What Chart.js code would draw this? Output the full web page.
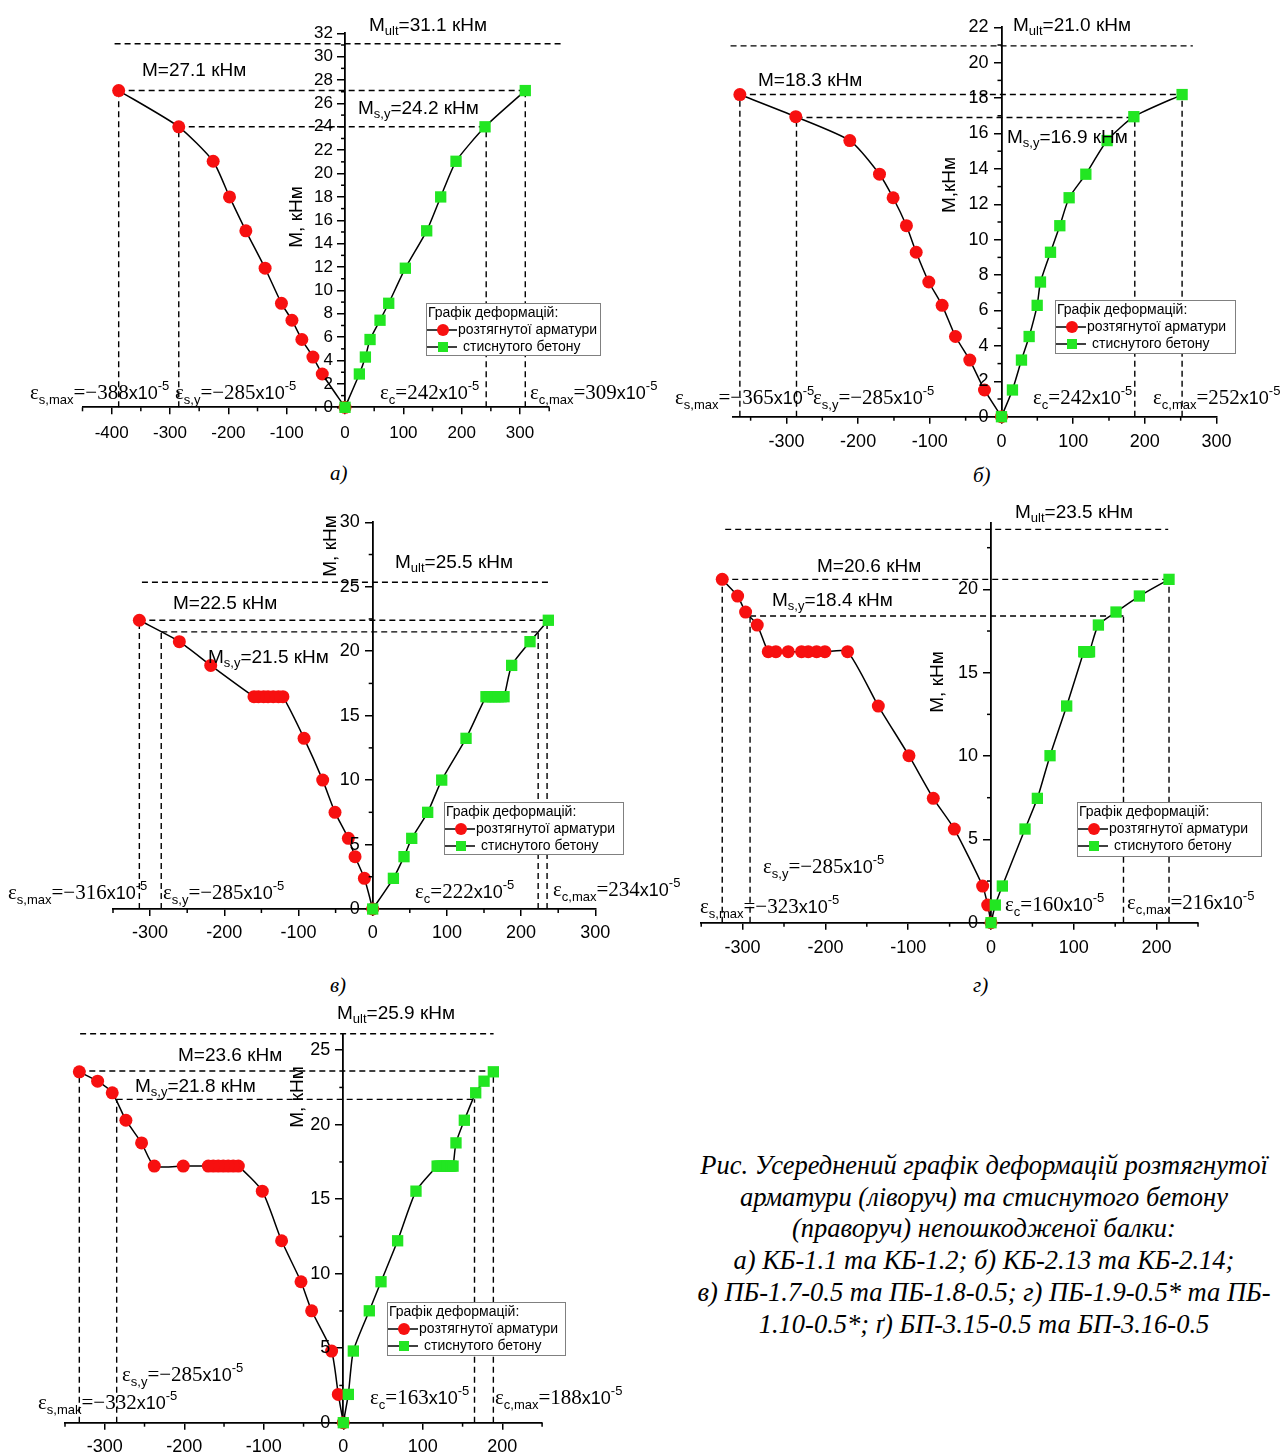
<!DOCTYPE html>
<html lang="uk">
<head>
<meta charset="utf-8">
<title>Усереднений графік деформацій</title>
<script src="https://cdn.jsdelivr.net/npm/chart.js@4.4.1/dist/chart.umd.min.js"></script>
<style>
  html, body { margin: 0; padding: 0; background: #fff; }
  #page { position: relative; width: 1284px; height: 1455px; overflow: hidden; }
  #page canvas { position: absolute; left: 0; top: 0; }
  .panel-label { position: absolute; font: italic 21px "Liberation Serif", "Times New Roman", serif; color: #000; }
  #caption { position: absolute; left: 584px; width: 800px; top: 1150px; text-align: center; white-space: nowrap;
             font: italic 26.5px/31.7px "Liberation Serif", "Times New Roman", serif; color: #000; }
</style>
</head>
<body>
<div id="page">
  <div class="panel-label" style="left:330px;top:461px">а)</div>
  <div class="panel-label" style="left:973px;top:463px">б)</div>
  <div class="panel-label" style="left:330px;top:973px">в)</div>
  <div class="panel-label" style="left:973px;top:973px">г)</div>
  <div id="caption" style="left:584px;width:800px">Рис. Усереднений графік деформацій розтягнутої<br>арматури (ліворуч) та стиснутого бетону<br>(праворуч) непошкодженої балки:<br>а) КБ-1.1 та КБ-1.2; б) КБ-2.13 та КБ-2.14;<br>в) ПБ-1.7-0.5 та ПБ-1.8-0.5; г) ПБ-1.9-0.5* та ПБ-<br>1.10-0.5*; ґ) БП-3.15-0.5 та БП-3.16-0.5</div>
  <canvas id="chartA" width="1284" height="1455"></canvas>
  <canvas id="chartB" width="1284" height="1455"></canvas>
  <canvas id="chartC" width="1284" height="1455"></canvas>
  <canvas id="chartD" width="1284" height="1455"></canvas>
  <canvas id="chartE" width="1284" height="1455"></canvas>
</div>
<script>
// а) moments (kNm) and strains (x10^-5): rebar is negative, concrete positive
const momentA = [0, 2.85, 4.3, 5.8, 7.45, 8.9, 11.9, 15.1, 18.0, 21.05, 24.0, 27.1];
const rebarA = [0, -39, -55, -74, -91, -109, -137, -170, -198, -226, -285, -388];
const concreteA = [0, 24.6, 34.9, 42.9, 60, 74.9, 103.4, 140, 164, 190.3, 240, 309];
const levelsA = [31.1, 27.1, 24.0];          // M_ult, M, M_s,y
const dropsA = [-388, -285, 242, 309];       // eps_s,max, eps_s,y, eps_c, eps_c,max
const xTicksA = [-400, -300, -200, -100, 0, 100, 200, 300];
const yTicksA = [0, 2, 4, 6, 8, 10, 12, 14, 16, 18, 20, 22, 24, 26, 28, 30, 32];

// б)
const momentB = [0, 1.51, 3.2, 4.53, 6.29, 7.61, 9.29, 10.79, 12.37, 13.7, 15.6, 16.95, 18.2];
const rebarB = [0, -23.7, -44.2, -64.2, -82.8, -101.4, -119, -132.6, -151.2, -170.2, -211.6, -287, -365];
const concreteB = [0, 15.3, 27.9, 38.6, 49.8, 54.4, 68.4, 81.4, 94.4, 117.7, 147.4, 184.7, 252];
const levelsB = [20.95, 18.2, 16.9];
const dropsB = [-365, -286, 186, 252];
const xTicksB = [-300, -200, -100, 0, 100, 200, 300];
const yTicksB = [0, 2, 4, 6, 8, 10, 12, 14, 16, 18, 20, 22];

// в)
const momentC = [0, 2.38, 4.06, 5.48, 7.5, 10.0, 13.24, 16.47, 16.47, 16.47, 16.47, 16.47, 16.47, 16.47, 18.9, 20.74, 22.4];
const rebarC = [0, -11.2, -23.8, -32.8, -50.8, -67.4, -92.5, -121, -127, -134, -141, -147, -154, -160, -218.3, -260.6, -314.5];
const concreteC = [0, 27.9, 42.2, 52.6, 74.1, 93, 125.8, 152.7, 157, 161, 165, 169, 173, 177, 187.3, 212, 236.7];
const levelsC = [25.35, 22.4, 21.5];
const dropsC = [-314.5, -285, 223, 235];
const xTicksC = [-300, -200, -100, 0, 100, 200, 300];
const yTicksC = [0, 5, 10, 15, 20, 25, 30];

// г)
const momentD = [0, 1.06, 2.2, 5.62, 7.46, 10.02, 13.0, 16.26, 16.26, 16.26, 16.26, 16.26, 16.26, 16.26, 16.26, 17.86, 18.64, 19.6, 20.6];
const rebarD = [0, -4, -10.1, -44.3, -69.7, -99.1, -136.1, -173.2, -200.6, -210.6, -220.7, -228.8, -244.9, -259.8, -269, -282.3, -296.4, -306, -324.6];
const concreteD = [0, 5.2, 13.7, 41.1, 56, 71.3, 91.4, 112, 113, 114, 115, 116, 117, 118, 119, 129.7, 151, 179.2, 215];
const levelsD = [23.6, 20.6, 18.4];
const dropsD = [-324.6, -291, 160, 215];
const xTicksD = [-300, -200, -100, 0, 100, 200];
const yTicksD = [0, 5, 10, 15, 20];

// ґ)
const momentE = [0, 1.9, 4.81, 7.51, 9.46, 12.21, 15.54, 17.22, 17.22, 17.22, 17.22, 17.22, 17.22, 17.22, 17.22, 17.22, 18.78, 20.3, 22.14, 22.92, 23.55];
const rebarE = [0, -6.3, -14.7, -39.8, -53.2, -77.6, -101.9, -132, -138.4, -144.7, -150.9, -157.2, -163.5, -169.8, -201.3, -237.7, -253.7, -273.4, -290.6, -309, -332];
const concreteE = [0, 6.3, 12.6, 32.7, 47.4, 68.3, 91.4, 118, 120.5, 123, 125.5, 128, 130.5, 133, 135.5, 138, 141.7, 152.2, 166.5, 177, 188.7];
const levelsE = [26.1, 23.6, 21.7];
const dropsE = [-332, -285, 165, 188.7];
const xTicksE = [-300, -200, -100, 0, 100, 200];
const yTicksE = [0, 5, 10, 15, 20, 25];

const RED = '#f71010';
const GREEN = '#22e622';
const SANS = '"Liberation Sans", Arial, sans-serif';
const SERIF = '"Liberation Serif", "Times New Roman", serif';

function range(from, to, step) {
    const out = [];
    for (let v = from; v <= to + 1e-9; v += step) out.push(+v.toFixed(3));
    return out;
}

// layout of every panel (page pixels); texts: [x, baseline, subscript, value]
const panels = [
    {
        id: 'chartA', moment: momentA, rebar: rebarA, concrete: concreteA, levels: levelsA, drops: dropsA,
        xTicks: xTicksA, yTicks: yTicksA, xMinor: range(-450, 350, 100), yMinor: range(1, 31, 2),
        area: {left: 82.5, right: 549.2, top: 33.3, bottom: 407.3}, xRange: [-450, 350], yRange: [0, 32],
        ultSpan: [-395, 376], tickFont: 17, yGap: 12, xGap: 26,
        mTexts: [[369, 31, 'ult', '31.1'], [142, 76, '', '27.1'], [358, 114, 's,y', '24.2']],
        eTexts: [[30, 399, 's,max', '−388'], [175, 399, 's,y', '−285'], [380, 399, 'c', '242'], [530, 399, 'c,max', '309']],
        yTitle: [297, 217, 'M, кНм'], legend: [426, 303, 174, 52]
    },
    {
        id: 'chartB', moment: momentB, rebar: rebarB, concrete: concreteB, levels: levelsB, drops: dropsB,
        xTicks: xTicksB, yTicks: yTicksB, xMinor: range(-350, 250, 100), yMinor: range(1, 21, 2),
        area: {left: 732.7, right: 1216.5, top: 27.3, bottom: 416.7}, xRange: [-375, 300], yRange: [0, 22],
        ultSpan: [-378, 267], tickFont: 18, yGap: 13, xGap: 25,
        mTexts: [[1013, 31, 'ult', '21.0'], [758, 86, '', '18.3'], [1007, 143, 's,y', '16.9']],
        eTexts: [[675, 404, 's,max', '−365'], [813, 404, 's,y', '−285'], [1033, 404, 'c', '242'], [1153, 404, 'c,max', '252']],
        yTitle: [950, 185, 'M,кНм'], legend: [1055, 300, 180, 53]
    },
    {
        id: 'chartC', moment: momentC, rebar: rebarC, concrete: concreteC, levels: levelsC, drops: dropsC,
        xTicks: xTicksC, yTicks: yTicksC, xMinor: range(-350, 250, 100), yMinor: range(2.5, 27.5, 5),
        area: {left: 113, right: 595.3, top: 522.3, bottom: 909}, xRange: [-350, 300], yRange: [0, 30],
        ultSpan: [-311, 237], tickFont: 18, yGap: 13, xGap: 24,
        mTexts: [[395, 568, 'ult', '25.5'], [173, 609, '', '22.5'], [208, 663, 's,y', '21.5']],
        eTexts: [[8, 899, 's,max', '−316'], [163, 899, 's,y', '−285'], [415, 898, 'c', '222'], [553, 896, 'c,max', '234']],
        yTitle: [331, 546, 'M, кНм'], legend: [444, 802, 179, 52]
    },
    {
        id: 'chartD', moment: momentD, rebar: rebarD, concrete: concreteD, levels: levelsD, drops: dropsD,
        xTicks: xTicksD, yTicks: yTicksD, xMinor: range(-350, 250, 100), yMinor: range(2.5, 22.5, 5),
        area: {left: 701.2, right: 1198, top: 522.7, bottom: 922.7}, xRange: [-350, 250], yRange: [0, 24],
        ultSpan: [-321, 214], tickFont: 18, yGap: 13, xGap: 25.5,
        mTexts: [[1015, 518, 'ult', '23.5'], [817, 572, '', '20.6'], [772, 606, 's,y', '18.4']],
        eTexts: [[763, 873, 's,y', '−285'], [700, 913, 's,max', '−323'], [1005, 911, 'c', '160'], [1127, 909, 'c,max', '216']],
        yTitle: [938, 682, 'M, кНм'], legend: [1077, 802, 184, 54]
    },
    {
        id: 'chartE', moment: momentE, rebar: rebarE, concrete: concreteE, levels: levelsE, drops: dropsE,
        xTicks: xTicksE, yTicks: yTicksE, xMinor: range(-350, 250, 100), yMinor: range(2.5, 22.5, 5),
        area: {left: 65, right: 542.1, top: 1035.3, bottom: 1422.7}, xRange: [-350, 250], yRange: [0, 26],
        ultSpan: [-331, 189], tickFont: 18, yGap: 13, xGap: 24,
        mTexts: [[337, 1019, 'ult', '25.9'], [178, 1061, '', '23.6'], [135, 1092, 's,y', '21.8']],
        eTexts: [[122, 1381, 's,y', '−285'], [38, 1409, 's,mak', '−332'], [370, 1404, 'c', '163'], [495, 1404, 'c,max', '188']],
        yTitle: [298, 1097, 'M, кНм'], legend: [387, 1302, 178, 53]
    }
];

function drawRuns(ctx, x, y, runs) {
    runs.forEach(([text, font, dy]) => {
        ctx.font = font;
        ctx.fillText(text, x, y + dy);
        x += ctx.measureText(text).width;
    });
}

function momentRuns(sub, val) {
    const runs = [['M', '19px ' + SANS, 0]];
    if (sub) runs.push([sub, '13px ' + SANS, 4]);
    runs.push(['=' + val + ' кНм', '19px ' + SANS, 0]);
    return runs;
}

function strainRuns(sub, val) {
    return [
        ['ε', '21px ' + SERIF, 0], [sub, '13px ' + SANS, 5], ['=' + val, '21px ' + SERIF, 0],
        ['x10', '18px ' + SANS, 0], ['-5', '13px ' + SANS, -9]
    ];
}

function drawLegend(ctx, [lx, ly, w, h]) {
    ctx.save();
    ctx.setLineDash([]);
    ctx.fillStyle = '#fff';
    ctx.fillRect(lx, ly, w, h);
    ctx.strokeStyle = '#808080';
    ctx.lineWidth = 1;
    ctx.strokeRect(lx + 0.5, ly + 0.5, w, h);
    ctx.fillStyle = '#000';
    ctx.font = '14px ' + SANS;
    ctx.textAlign = 'left';
    ctx.textBaseline = 'middle';
    ctx.fillText('Графік деформацій:', lx + 2, ly + 10);
    [[27, 'circle', 'розтягнутої арматури', 32], [44, 'rect', 'стиснутого бетону', 37]].forEach(([dy, shape, label, tx]) => {
        const cy = ly + dy;
        ctx.strokeStyle = '#000';
        ctx.lineWidth = 1.5;
        ctx.beginPath();
        ctx.moveTo(lx + 1, cy);
        ctx.lineTo(lx + 31, cy);
        ctx.stroke();
        if (shape === 'circle') {
            ctx.fillStyle = RED;
            ctx.beginPath();
            ctx.arc(lx + 17, cy, 6, 0, Math.PI * 2);
            ctx.fill();
        } else {
            ctx.fillStyle = GREEN;
            ctx.fillRect(lx + 12, cy - 5, 10, 10);
        }
        ctx.fillStyle = '#000';
        ctx.fillText(label, lx + tx, cy);
    });
    ctx.restore();
}

function annotations(p) {
    return {
        id: 'annot' + p.id,
        beforeDatasetsDraw(chart) {
            const {ctx, scales: {x, y}} = chart;
            const [mUlt, mMax, mYield] = p.levels;
            const [sMax, sYield, cYield, cMax] = p.drops;
            const segs = [
                [p.ultSpan[0], mUlt, p.ultSpan[1], mUlt],
                [sMax, mMax, cMax, mMax],
                [sYield, mYield, cYield, mYield],
                [sMax, 0, sMax, mMax], [sYield, 0, sYield, mYield],
                [cYield, 0, cYield, mYield], [cMax, 0, cMax, mMax]
            ];
            ctx.save();
            ctx.strokeStyle = '#000';
            ctx.lineWidth = 1.4;
            ctx.setLineDash([6, 4]);
            segs.forEach(s => {
                ctx.beginPath();
                ctx.moveTo(x.getPixelForValue(s[0]), y.getPixelForValue(s[1]));
                ctx.lineTo(x.getPixelForValue(s[2]), y.getPixelForValue(s[3]));
                ctx.stroke();
            });
            ctx.restore();
        },
        afterDraw(chart) {
            const {ctx, scales: {x, y}} = chart;
            const ax = x.getPixelForValue(0);
            const ay = y.getPixelForValue(0);
            ctx.save();
            // minor ticks
            ctx.strokeStyle = '#000';
            ctx.lineWidth = 1.5;
            p.xMinor.forEach(v => {
                const px = x.getPixelForValue(v);
                ctx.beginPath();
                ctx.moveTo(px, ay);
                ctx.lineTo(px, ay + 4);
                ctx.stroke();
            });
            p.yMinor.forEach(v => {
                const py = y.getPixelForValue(v);
                ctx.beginPath();
                ctx.moveTo(ax, py);
                ctx.lineTo(ax - 4, py);
                ctx.stroke();
            });
            // tick labels (both axes cross at the origin)
            ctx.fillStyle = '#000';
            ctx.font = p.tickFont + 'px ' + SANS;
            ctx.textAlign = 'right';
            ctx.textBaseline = 'middle';
            p.yTicks.forEach(v => ctx.fillText(String(v), ax - p.yGap, y.getPixelForValue(v)));
            ctx.textAlign = 'center';
            p.xTicks.forEach(v => ctx.fillText(String(v), x.getPixelForValue(v), ay + p.xGap));
            // y title
            ctx.save();
            ctx.translate(p.yTitle[0], p.yTitle[1]);
            ctx.rotate(-Math.PI / 2);
            ctx.textAlign = 'center';
            ctx.font = '19px ' + SANS;
            ctx.fillText(p.yTitle[2], 0, 0);
            ctx.restore();
            // annotations
            ctx.textAlign = 'left';
            ctx.textBaseline = 'alphabetic';
            p.mTexts.forEach(t => drawRuns(ctx, t[0], t[1], momentRuns(t[2], t[3])));
            p.eTexts.forEach(t => drawRuns(ctx, t[0], t[1], strainRuns(t[2], t[3])));
            ctx.restore();
            drawLegend(ctx, p.legend);
        }
    };
}

function buildChart(p) {
    const canvas = document.getElementById(p.id);
    const W = canvas.width, H = canvas.height;
    const axisGrid = {display: true, drawOnChartArea: false, drawTicks: true, tickLength: 7, color: '#000', lineWidth: 1.5};
    return new Chart(canvas, {
        type: 'scatter',
        data: {
            datasets: [
                {
                    data: p.rebar.map((v, i) => ({x: v, y: p.moment[i]})),
                    showLine: true, borderColor: '#000', borderWidth: 1.5, tension: 0.2, clip: false, order: 2,
                    pointStyle: 'circle', pointRadius: 6.5, pointBackgroundColor: RED, pointBorderColor: RED, pointBorderWidth: 0
                },
                {
                    data: p.concrete.map((v, i) => ({x: v, y: p.moment[i]})),
                    showLine: true, borderColor: '#000', borderWidth: 1.5, tension: 0.2, clip: false, order: 1,
                    pointStyle: 'rect', pointRadius: 8, pointBackgroundColor: GREEN, pointBorderColor: GREEN, pointBorderWidth: 0
                }
            ]
        },
        options: {
            responsive: false,
            animation: false,
            events: [],
            layout: {
                autoPadding: false,
                padding: {left: p.area.left, right: W - p.area.right, top: p.area.top, bottom: H - p.area.bottom}
            },
            plugins: {legend: {display: false}, tooltip: {enabled: false}},
            scales: {
                x: {
                    type: 'linear', position: 'bottom', min: p.xRange[0], max: p.xRange[1],
                    afterFit: s => { s.height = 0; },
                    afterBuildTicks: s => { s.ticks = p.xTicks.map(v => ({value: v})); },
                    grid: axisGrid,
                    border: {display: true, color: '#000', width: 1.8},
                    ticks: {display: false}
                },
                y: {
                    type: 'linear', position: {x: 0}, min: p.yRange[0], max: p.yRange[1],
                    afterFit: s => { s.width = 0; },
                    afterBuildTicks: s => { s.ticks = p.yTicks.map(v => ({value: v})); },
                    grid: axisGrid,
                    border: {display: true, color: '#000', width: 1.8},
                    ticks: {display: false}
                }
            }
        },
        plugins: [annotations(p)]
    });
}

panels.forEach(buildChart);
</script>
</body>
</html>
